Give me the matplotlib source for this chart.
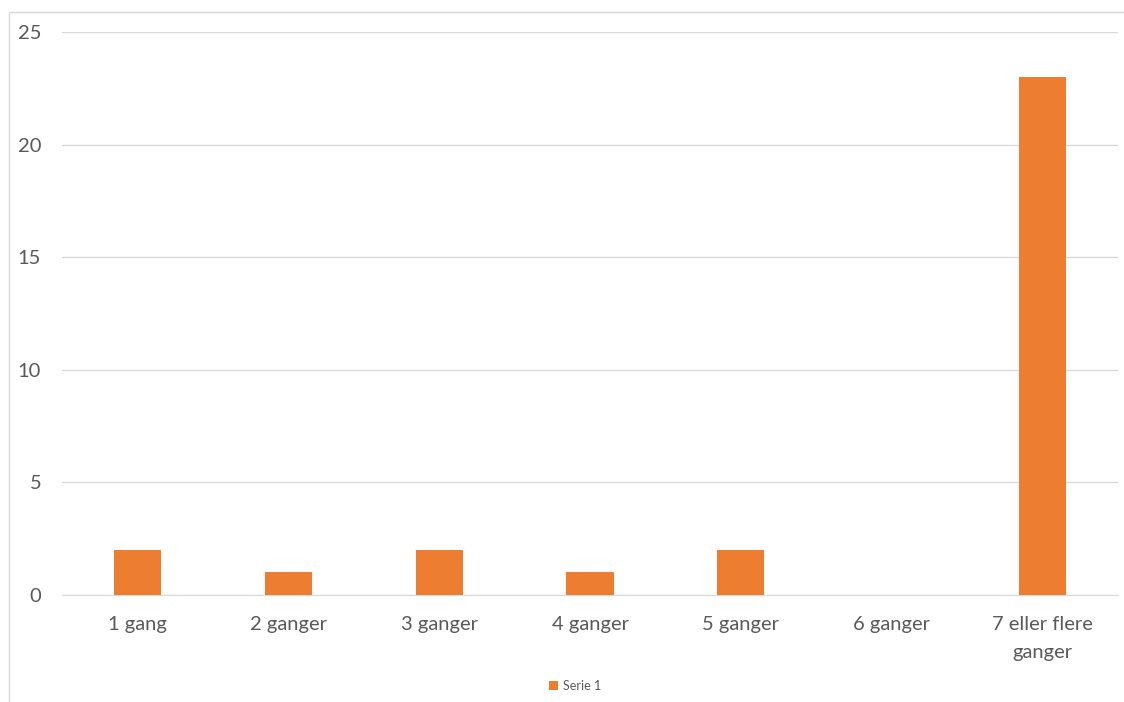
import matplotlib
matplotlib.use("Agg")
import matplotlib.pyplot as plt
from matplotlib.patches import Rectangle

categories = ["1 gang", "2 ganger", "3 ganger", "4 ganger", "5 ganger", "6 ganger", "7 eller flere\nganger"]
values = [2, 1, 2, 1, 2, 0, 23]
series_name = "Serie 1"
yticks = [0, 5, 10, 15, 20, 25]

W, H = 1124, 702
fig = plt.figure(figsize=(W / 100, H / 100), dpi=100)
plt.rcParams['font.family'] = ['Lato', 'DejaVu Sans']

# chart border
fig.patches.append(Rectangle((9 / W, -0.01), (W + 5 - 9) / W, (H - 12) / H + 0.01,
                             transform=fig.transFigure, fill=False,
                             edgecolor="#d9d9d9", linewidth=1))

left, right, top, bottom = 62, 1118, 32, 595
ax = fig.add_axes([left / W, 1 - bottom / H, (right - left) / W, (bottom - top) / H])

x = list(range(len(categories)))
bars = ax.bar(x, values, width=0.313, color="#ED7D31", label=series_name, zorder=3)

ax.set_xlim(-0.5, len(categories) - 0.5)
ax.set_ylim(0, 25)
ax.set_yticks(yticks)
ax.set_yticklabels([str(t) for t in yticks])
ax.set_xticks(x)
ax.set_xticklabels(categories, linespacing=1.8)
ax.grid(axis="y", color="#d9d9d9", linewidth=1, zorder=0)
for s in ["top", "right", "left"]:
    ax.spines[s].set_visible(False)
ax.spines["bottom"].set_color("#d9d9d9")
ax.tick_params(axis="both", length=0, labelsize=14.5, colors="#595959")
ax.tick_params(axis="y", pad=15)
ax.tick_params(axis="x", pad=15)

leg = fig.legend(handles=[bars], labels=[series_name], loc="center",
                 bbox_to_anchor=(575 / W, 1 - 686 / H), frameon=False,
                 fontsize=9, handlelength=0.7, handleheight=0.7, handletextpad=0.4,
                 labelcolor="#595959")

fig.savefig("out.png", dpi=100, facecolor="white")
